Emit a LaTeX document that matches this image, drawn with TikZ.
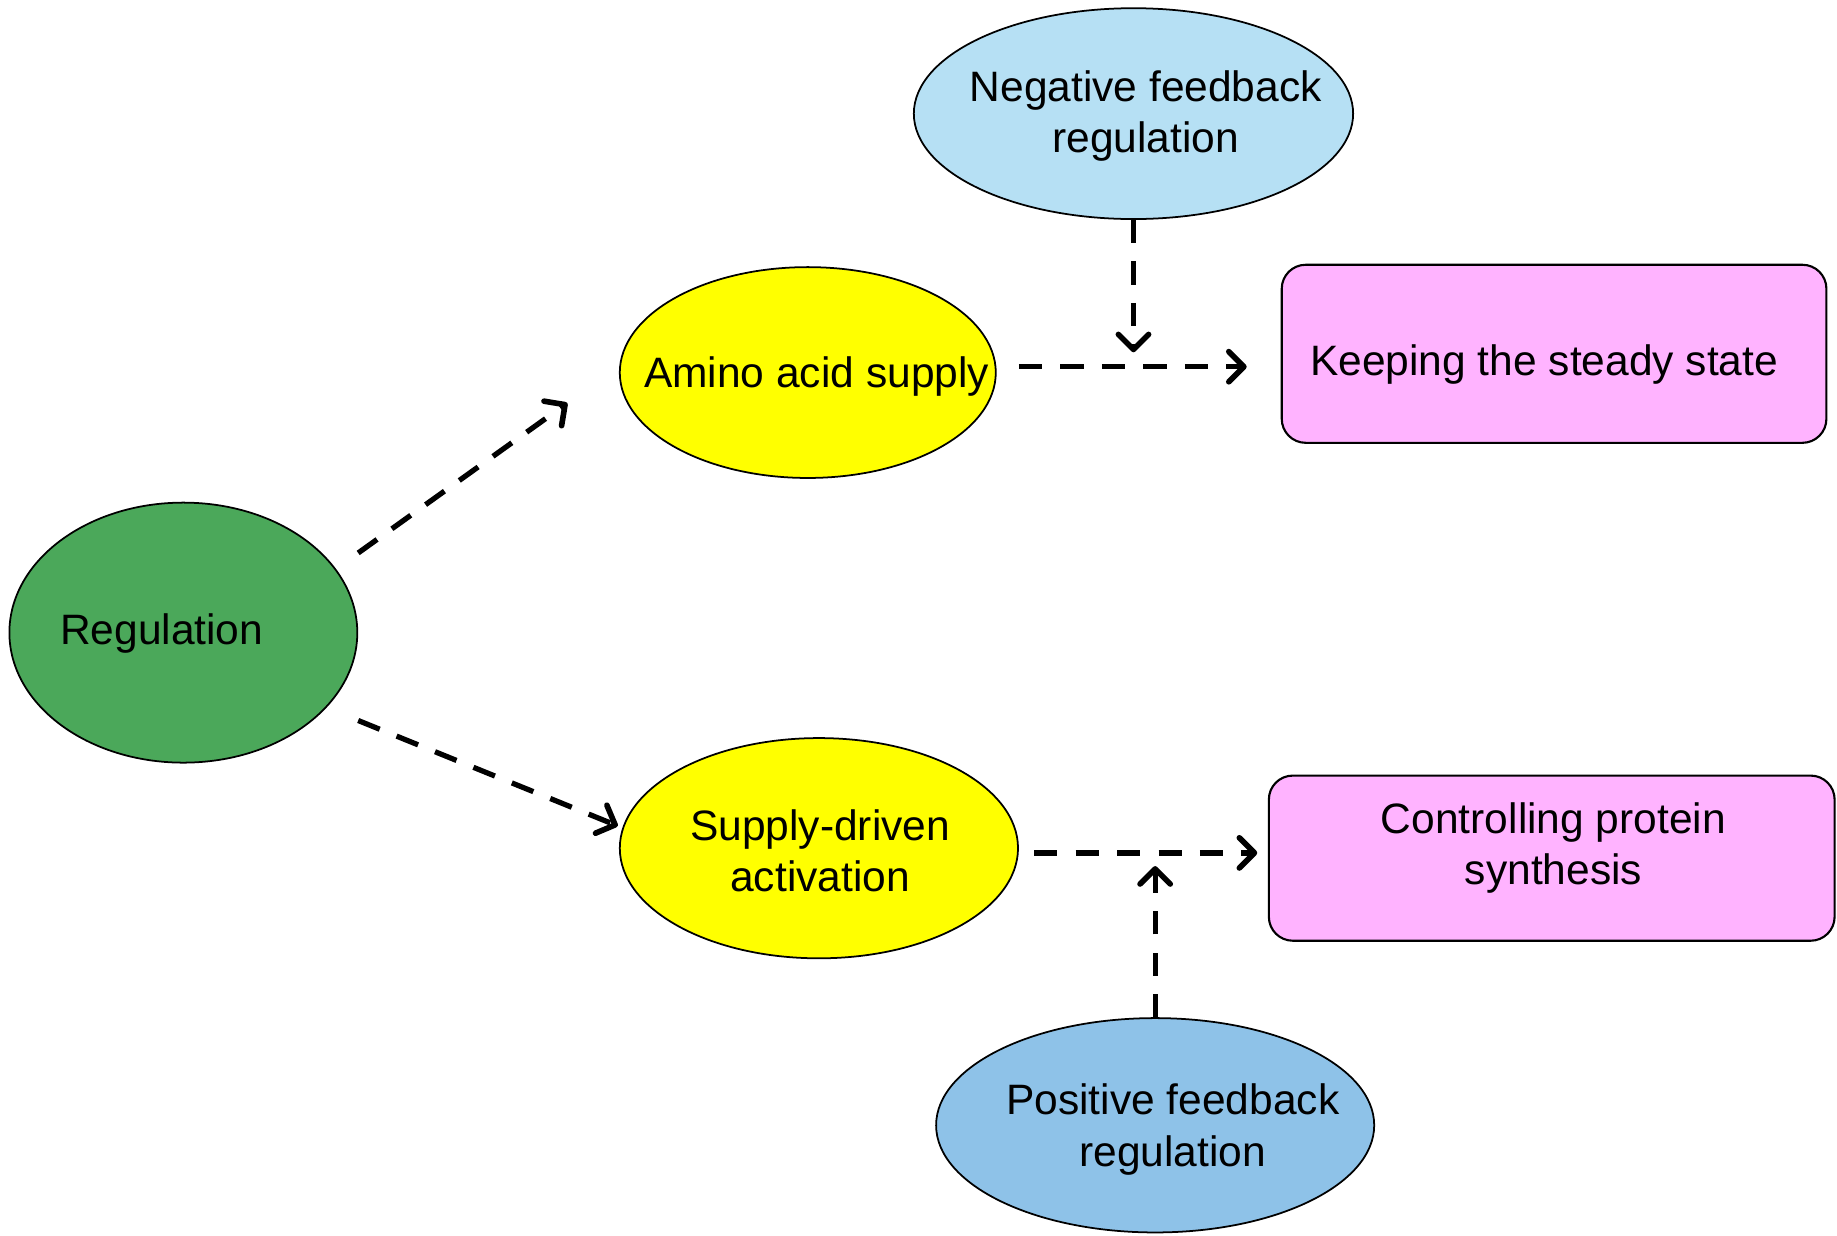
\documentclass[tikz,border=0pt]{standalone}
\usepackage{fontspec}
\setmainfont{Liberation Sans}
\usetikzlibrary{shapes.geometric,arrows.meta,calc}
\definecolor{regg}{HTML}{4BA85A}
\definecolor{yel}{HTML}{FFFF00}
\definecolor{lblue}{HTML}{B6E0F4}
\definecolor{mblue}{HTML}{8EC2E8}
\definecolor{pinkb}{HTML}{FFB3FF}
\begin{document}
\begin{tikzpicture}[x=0.011716cm,y=-0.011716cm,
  ell/.style={ellipse,draw=black,line width=0.5pt,inner sep=0pt},
  boxn/.style={rectangle,rounded corners=0.24cm,draw=black,line width=0.6pt,inner sep=0pt},
  txt/.style={align=center,font=\fontsize{12.1}{14.6}\selectfont},
  conn/.style={line width=1.5pt,dash pattern=on 6.6pt off 5.2pt,-{Straight Barb[length=4.3pt,width=8.6pt,line width=1.6pt,round]}}
]
\useasboundingbox (0,0) rectangle (1568,1055);
% shapes
\node[ell,fill=regg,minimum width=3.480cm,minimum height=2.601cm] (reg) at (156.5,540) {};
\node[ell,fill=yel,minimum width=3.761cm,minimum height=2.109cm] (amino) at (689.5,318) {};
\node[ell,fill=yel,minimum width=3.983cm,minimum height=2.203cm] (supply) at (699,724) {};
\node[ell,fill=lblue,minimum width=4.394cm,minimum height=2.109cm] (neg) at (967.5,97) {};
\node[ell,fill=mblue,minimum width=4.382cm,minimum height=2.144cm] (pos) at (986,960.5) {};
\node[boxn,fill=pinkb,minimum width=5.448cm,minimum height=1.781cm] (keep) at (1326.5,302) {};
\node[boxn,fill=pinkb,minimum width=5.659cm,minimum height=1.652cm] (ctrl) at (1324.5,732.5) {};
% texts
\node[txt] (reg-t) at (138,541) {Regulation};
\node[txt] (amino-t) at (697,321) {Amino acid supply};
\node[txt] (supply-t) at (700,726) {Supply-driven\\activation};
\node[txt] (neg-t) at (978,99) {Negative feedback\\regulation};
\node[txt] (pos-t) at (1001,964) {Positive feedback\\regulation};
\node[txt] (keep-t) at (1318,311) {Keeping the steady state};
\node[txt] (ctrl-t) at (1326,724) {Controlling protein\\synthesis};
% connectors
\draw[conn] ($(reg.east)+(0,-68)$) -- ($(amino.west)+(-44,26)$);
\draw[conn] ($(reg.east)+(0,75)$) -- ($(supply.west)+(-1,-19)$);
\draw[conn] ($(amino.east)+(19,-5)$) -- ($(keep.west)+(-29,11)$);
\draw[conn] (neg.south) -- ($(neg.south)+(0,113)$);
\draw[conn] ($(supply.east)+(13,4)$) -- ($(ctrl.west)+(-9,-4.5)$);
\draw[conn] (pos.north) -- ($(pos.north)+(0,-129)$);
\end{tikzpicture}
\end{document}
